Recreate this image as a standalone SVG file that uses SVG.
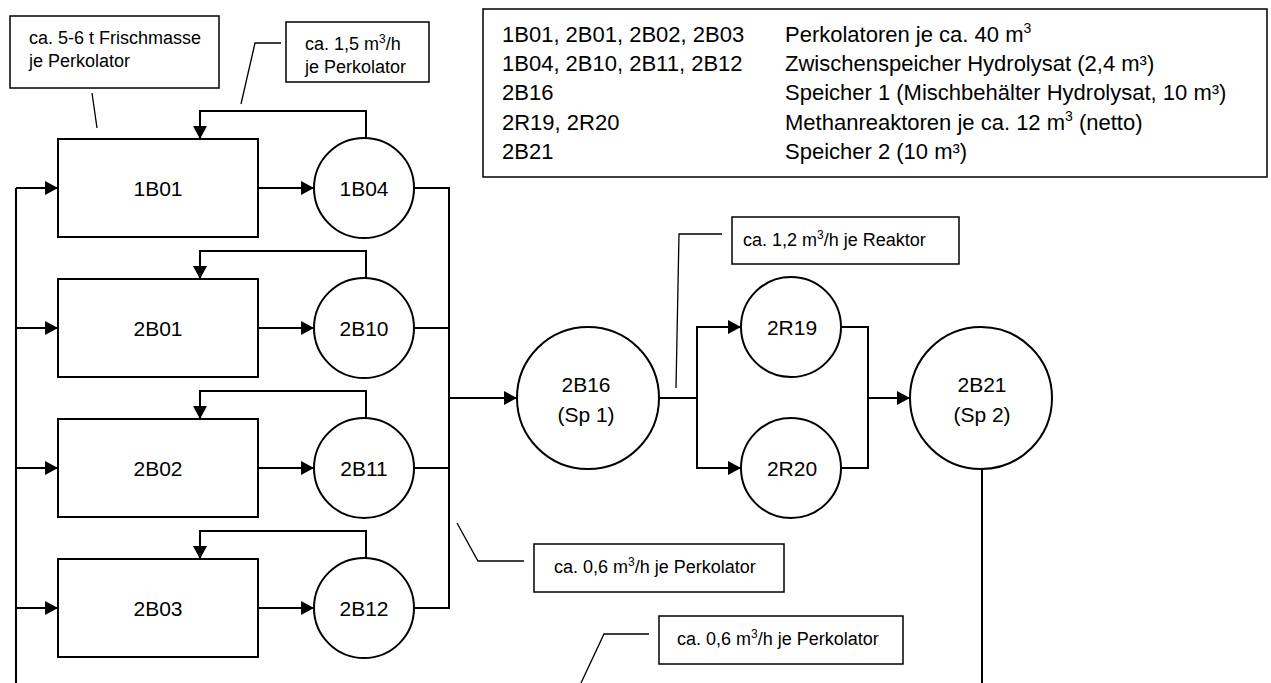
<svg xmlns="http://www.w3.org/2000/svg" width="1271" height="683" viewBox="0 0 1271 683">
<style>
  text { font-family: "Liberation Sans", Arial, sans-serif; fill: #000; }
  .node { fill: #fff; stroke: #000; stroke-width: 2; }
  .nt { font-size: 21px; text-anchor: middle; }
  .lbl { fill: #fff; stroke: #000; stroke-width: 1.5; }
  .lt { font-size: 18px; }
  .leg { font-size: 22px; }
  .con { fill: none; stroke: #000; stroke-width: 2; }
  .arr { marker-end: url(#ah); }
  .lead { fill: none; stroke: #000; stroke-width: 1.3; }
</style>
<defs>
  <marker id="ah" viewBox="0 0 13 14" refX="13" refY="7" markerWidth="13" markerHeight="14" markerUnits="userSpaceOnUse" orient="auto">
    <path d="M0,0 L13,7 L0,14 z" fill="#000"/>
  </marker>
</defs>
<rect width="1271" height="683" fill="#fff"/>

<g id="connectors">
  <!-- left feed bus -->
  <path class="con" d="M16,683 V188"/>
  <path class="con arr" d="M16,188 H58"/>
  <path class="con arr" d="M16,328 H58"/>
  <path class="con arr" d="M16,468 H58"/>
  <path class="con arr" d="M16,608 H58"/>
  <!-- percolator to storage -->
  <path class="con arr" d="M258,188 H314"/>
  <path class="con arr" d="M258,328 H314"/>
  <path class="con arr" d="M258,468 H314"/>
  <path class="con arr" d="M258,608 H314"/>
  <!-- recirculation -->
  <path class="con arr" d="M366,138 V111 H200 V139"/>
  <path class="con arr" d="M366,278 V251 H200 V279"/>
  <path class="con arr" d="M366,418 V391 H200 V419"/>
  <path class="con arr" d="M366,558 V531 H200 V559"/>
  <!-- right collector bus -->
  <path class="con" d="M414,188 H449 V608 H414"/>
  <path class="con" d="M414,328 H449"/>
  <path class="con" d="M414,468 H449"/>
  <path class="con arr" d="M449,398 H517"/>
  <!-- 2B16 to reactors -->
  <path class="con" d="M659,398 H697"/>
  <path class="con arr" d="M697,398 V327 H741"/>
  <path class="con arr" d="M697,398 V468 H741"/>
  <!-- reactors to 2B21 -->
  <path class="con" d="M841,327 H868 V468 H841"/>
  <path class="con arr" d="M868,398 H910"/>
  <!-- 2B21 outlet -->
  <path class="con" d="M982,469 V683"/>
  <!-- label leaders -->
  <path class="lead" d="M92,93 L97,128"/>
  <path class="lead" d="M281,43 H255 L241,104"/>
  <path class="lead" d="M722,234 H679 L676,388"/>
  <path class="lead" d="M457,523 L478,561 H524"/>
  <path class="lead" d="M581,683 L604,634 H649"/>
</g>

<g id="n-1B01"><rect class="node" x="58" y="139" width="200" height="98"/><text class="nt" x="158" y="196">1B01</text></g>
<g id="n-2B01"><rect class="node" x="58" y="279" width="200" height="98"/><text class="nt" x="158" y="336">2B01</text></g>
<g id="n-2B02"><rect class="node" x="58" y="419" width="200" height="98"/><text class="nt" x="158" y="476">2B02</text></g>
<g id="n-2B03"><rect class="node" x="58" y="559" width="200" height="98"/><text class="nt" x="158" y="616">2B03</text></g>

<g id="n-1B04"><circle class="node" cx="364" cy="188" r="50"/><text class="nt" x="364" y="196">1B04</text></g>
<g id="n-2B10"><circle class="node" cx="364" cy="328" r="50"/><text class="nt" x="364" y="336">2B10</text></g>
<g id="n-2B11"><circle class="node" cx="364" cy="468" r="50"/><text class="nt" x="364" y="476">2B11</text></g>
<g id="n-2B12"><circle class="node" cx="364" cy="608" r="50"/><text class="nt" x="364" y="616">2B12</text></g>

<g id="n-2B16"><circle class="node" cx="588" cy="398" r="71"/><text class="nt" x="586" y="392">2B16</text><text class="nt" x="586" y="422">(Sp 1)</text></g>
<g id="n-2R19"><circle class="node" cx="791" cy="327" r="50"/><text class="nt" x="792" y="335">2R19</text></g>
<g id="n-2R20"><circle class="node" cx="791" cy="468" r="50"/><text class="nt" x="792" y="476">2R20</text></g>
<g id="n-2B21"><circle class="node" cx="981" cy="398" r="71"/><text class="nt" x="982" y="392">2B21</text><text class="nt" x="982" y="422">(Sp 2)</text></g>

<g id="label-frischmasse">
  <rect class="lbl" x="10" y="16" width="209" height="72"/>
  <text class="lt" x="29" y="44">ca. 5-6 t Frischmasse</text>
  <text class="lt" x="29" y="67">je Perkolator</text>
</g>
<g id="label-15">
  <rect class="lbl" x="286" y="22" width="143" height="60"/>
  <text class="lt" x="305" y="50">ca. 1,5 m<tspan font-size="12" dy="-7">3</tspan><tspan dy="7">/h</tspan></text>
  <text class="lt" x="305" y="73">je Perkolator</text>
</g>
<g id="label-12">
  <rect class="lbl" x="732" y="217" width="227" height="47"/>
  <text class="lt" x="743" y="246">ca. 1,2 m<tspan font-size="12" dy="-7">3</tspan><tspan dy="7">/h je Reaktor</tspan></text>
</g>
<g id="label-06a">
  <rect class="lbl" x="534" y="544" width="250" height="48"/>
  <text class="lt" x="554" y="573">ca. 0,6 m<tspan font-size="12" dy="-7">3</tspan><tspan dy="7">/h je Perkolator</tspan></text>
</g>
<g id="label-06b">
  <rect class="lbl" x="659" y="616" width="244" height="48"/>
  <text class="lt" x="677" y="645">ca. 0,6 m<tspan font-size="12" dy="-7">3</tspan><tspan dy="7">/h je Perkolator</tspan></text>
</g>

<g id="legend">
  <rect class="lbl" x="483" y="9" width="784" height="168"/>
  <text class="leg" x="502" y="42">1B01, 2B01, 2B02, 2B03</text>
  <text class="leg" x="785" y="42">Perkolatoren je ca. 40 m<tspan font-size="14" dy="-9">3</tspan></text>
  <text class="leg" x="502" y="71">1B04, 2B10, 2B11, 2B12</text>
  <text class="leg" x="785" y="71">Zwischenspeicher Hydrolysat (2,4 m³)</text>
  <text class="leg" x="502" y="100">2B16</text>
  <text class="leg" x="785" y="100">Speicher 1 (Mischbehälter Hydrolysat, 10 m³)</text>
  <text class="leg" x="502" y="130">2R19, 2R20</text>
  <text class="leg" x="785" y="130">Methanreaktoren je ca. 12 m<tspan font-size="14" dy="-9">3</tspan><tspan dy="9"> (netto)</tspan></text>
  <text class="leg" x="502" y="159">2B21</text>
  <text class="leg" x="785" y="159">Speicher 2 (10 m³)</text>
</g>
</svg>
